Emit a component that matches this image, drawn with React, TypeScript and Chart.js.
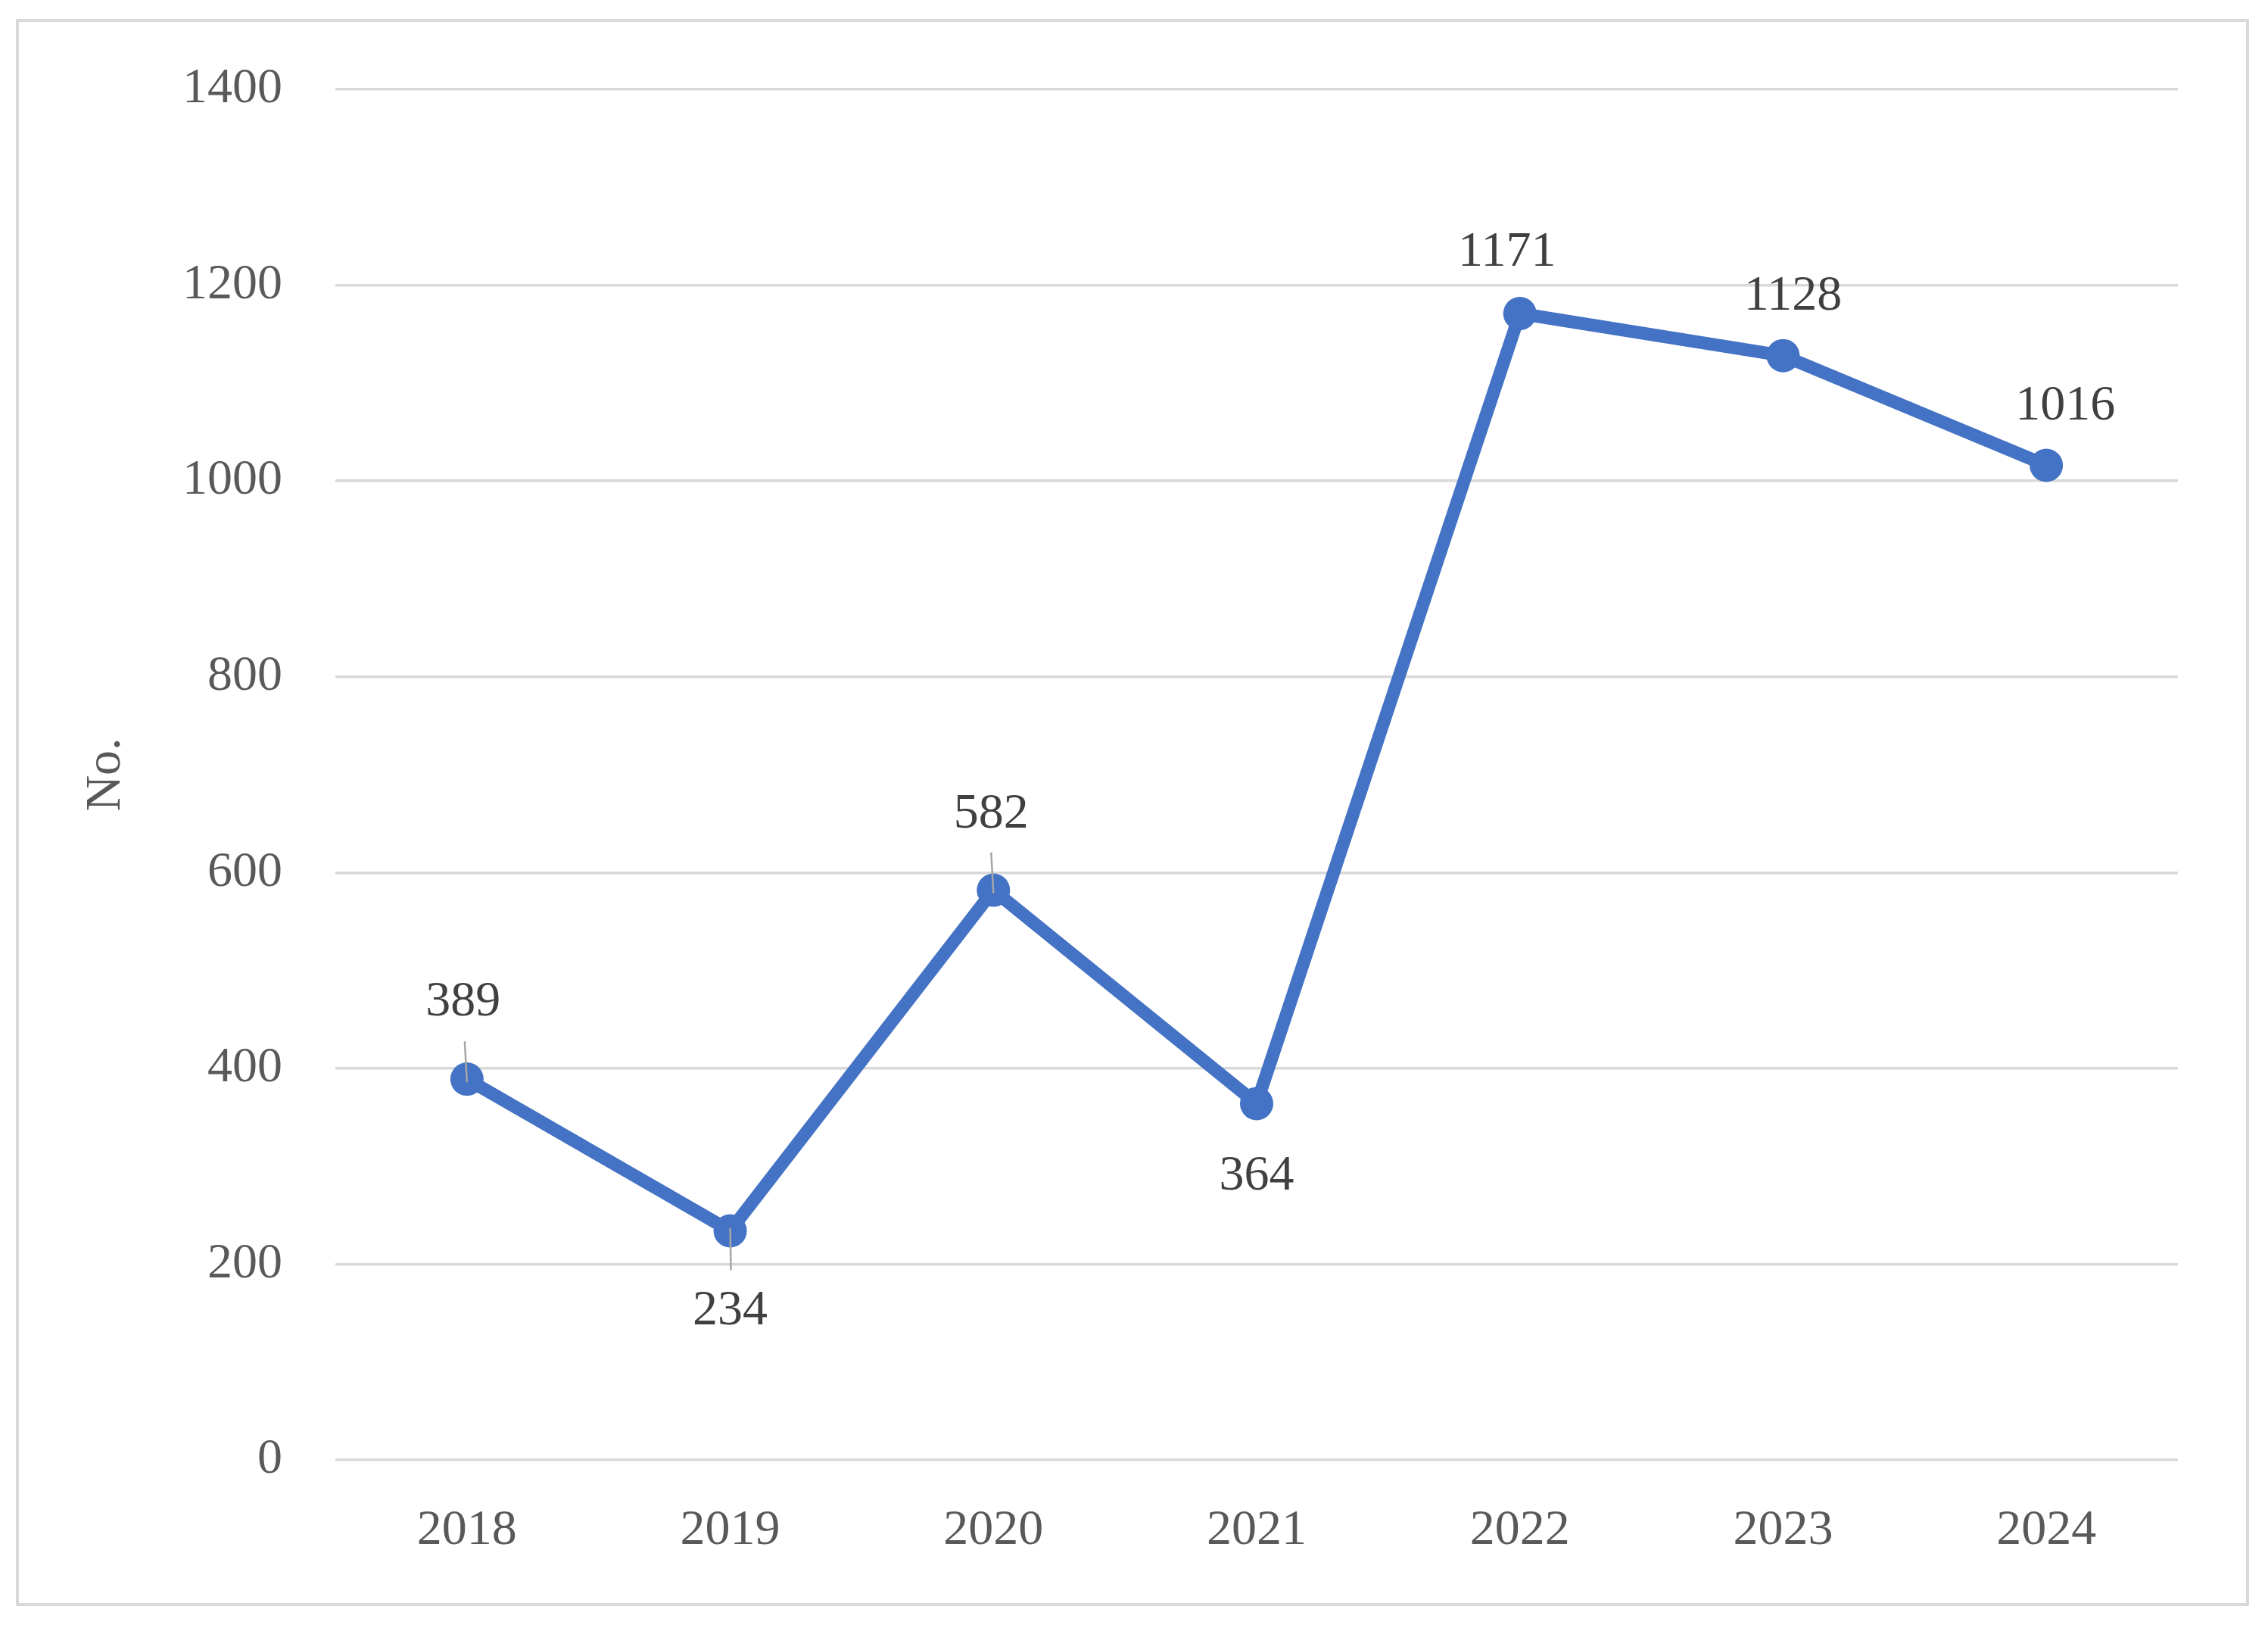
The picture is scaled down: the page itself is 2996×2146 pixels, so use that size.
import React, { useEffect, useRef } from "react";
import { Chart, registerables } from "chart.js";

Chart.register(...registerables);

const years = ["2018", "2019", "2020", "2021", "2022", "2023", "2024"];
const counts = [389, 234, 582, 364, 1171, 1128, 1016];
const yTicks = [0, 200, 400, 600, 800, 1000, 1200, 1400];
const yTitle = "No.";
// label placement: vertical offset (px, negative = above), horizontal nudge, leader line
const labelDy = [-101, 106, -100, 96, -80, -78, -78];
const labelDx = [-5, 0, -3, 0, -17, 13, 25];
const labelLeader = [true, true, true, false, false, false, false];

const FONT = "'Liberation Serif', 'Times New Roman', serif";

export default function App() {
  const ref = useRef<HTMLCanvasElement | null>(null);

  useEffect(() => {
    if (!ref.current) return;
    const frame = {
      id: "frame",
      beforeDraw(chart: any) {
        const ctx = chart.ctx;
        ctx.save();
        ctx.fillStyle = "#ffffff";
        ctx.fillRect(0, 0, chart.width, chart.height);
        ctx.strokeStyle = "#d9d9d9";
        ctx.lineWidth = 4;
        ctx.strokeRect(15, 19, 2946, 2092);
        ctx.restore();
      },
    };
    const labels = {
      id: "valueLabels",
      afterDatasetsDraw(chart: any) {
        const ctx = chart.ctx;
        const meta = chart.getDatasetMeta(0);
        ctx.save();
        meta.data.forEach((pt: any, i: number) => {
          const x = pt.x;
          const y = pt.y;
          if (labelLeader[i]) {
            ctx.strokeStyle = "#a6a6a6";
            ctx.lineWidth = 2.5;
            ctx.beginPath();
            if (labelDy[i] < 0) {
              ctx.moveTo(x - 3, y - 50);
              ctx.lineTo(x, y + 4);
            } else {
              ctx.moveTo(x, y - 4);
              ctx.lineTo(x + 1, y + 52);
            }
            ctx.stroke();
          }
          ctx.fillStyle = "#404040";
          ctx.font = `66px ${FONT}`;
          ctx.textAlign = "center";
          ctx.textBaseline = "middle";
          ctx.fillText(String(counts[i]), x + labelDx[i], y + labelDy[i]);
        });
        ctx.restore();
      },
    };
    const chart = new Chart(ref.current, {
      type: "line",
      data: {
        labels: years,
        datasets: [
          {
            data: counts,
            borderColor: "#4472C4",
            backgroundColor: "#4472C4",
            borderWidth: 17,
            pointRadius: 22,
            pointBorderWidth: 0,
            pointBackgroundColor: "#4472C4",
            tension: 0,
          },
        ],
      },
      options: {
        responsive: true,
        maintainAspectRatio: false,
        animation: false,
        layout: { padding: { left: 0, top: 110, right: 111, bottom: 0 } },
        plugins: {
          legend: { display: false },
          tooltip: { enabled: false },
        },
        scales: {
          x: {
            offset: true,
            grid: { display: false, drawTicks: false },
            border: { display: false },
            ticks: {
              color: "#595959",
              font: { family: FONT, size: 66 },
              padding: 54,
            },
            afterFit(axis: any) {
              axis.height = 210;
            },
          },
          y: {
            min: 0,
            max: 1400,
            afterBuildTicks(axis: any) {
              axis.ticks = yTicks.map((v) => ({ value: v }));
            },
            grid: { color: "#d9d9d9", lineWidth: 3.5, drawTicks: false },
            border: { display: false },
            ticks: {
              color: "#595959",
              font: { family: FONT, size: 66 },
              padding: 70,
              callback: (v: any) => String(v),
            },
            title: {
              display: true,
              text: yTitle,
              color: "#595959",
              font: { family: FONT, size: 66, lineHeight: 1.2 },
              padding: { top: 93, bottom: 0 },
            },
            afterFit(axis: any) {
              axis.width = 435;
            },
          },
        },
      },
      plugins: [frame, labels],
    } as any);
    return () => chart.destroy();
  }, []);

  return (
    <div style={{ width: 2980, height: 2130, position: "relative" }}>
      <canvas ref={ref} />
    </div>
  );
}
